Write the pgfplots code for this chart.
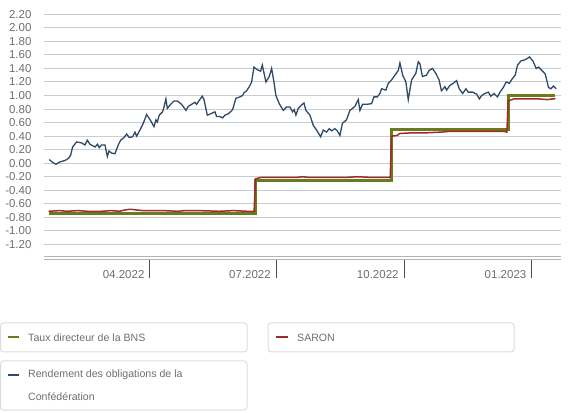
\documentclass[border=0pt]{standalone}
\usepackage{fontspec}
\setmainfont{Liberation Sans}
\usepackage{pgfplots}
\pgfplotsset{compat=1.18}
\definecolor{snbgreen}{HTML}{6B7B1B}
\definecolor{saronred}{HTML}{9E2A2B}
\definecolor{bondblue}{HTML}{2E4A66}
\definecolor{gridgray}{HTML}{C8CDD3}
\definecolor{labelgray}{HTML}{6E6E6E}
\definecolor{boxgray}{HTML}{D9DDE2}
\definecolor{tickgray}{HTML}{4A4F55}

\begin{document}
\begin{tikzpicture}[x=1pt,y=1pt]
\path[use as bounding box] (0,0) rectangle (575,412);
\begin{axis}[
  at={(44pt,154pt)}, anchor=south west,
  scale only axis, width=517pt, height=243.7pt,
  xmin=13.7, xmax=386, ymin=-1.4, ymax=2.2,
  ytick={-1.2,-1.0,-0.8,-0.6,-0.4,-0.2,0,0.2,0.4,0.6,0.8,1.0,1.2,1.4,1.6,1.8,2.0,2.2},
  /pgf/number format/assume math mode=true,
  yticklabel={\pgfmathprintnumber[fixed,fixed zerofill,precision=2]{\tick}},
  ymajorgrids, grid style={gridgray, line width=1pt},
  axis x line*=bottom, axis y line*=left,
  y axis line style={draw=none},
  x axis line style={gridgray!70!gray, line width=1pt, double=white, double distance=1.2pt},
  ytick style={draw=none},
  yticklabel style={xshift=11pt},
  xtick={90,181,273,365},
  xticklabels={04.2022,07.2022,10.2022,01.2023},
  xtick style={tickgray, line width=1pt},
  major tick length=20pt, tick align=outside,
  xticklabel style={anchor=north east, xshift=-2pt, yshift=11pt},
  tick label style={font=\fontsize{11.5}{13}\selectfont, text=labelgray},
  clip=false,
]
% Taux directeur de la BNS
\addplot[snbgreen, line width=3pt] coordinates {
(17,-0.75)(166,-0.75)(166,-0.25)(264,-0.25)(264,0.50)(348,0.50)(348,1.00)(382,1.00)};
% SARON
\addplot[saronred, line width=1.5pt] coordinates {
(17,-0.71)(25,-0.70)(30,-0.71)(38,-0.70)(45,-0.71)(55,-0.71)(62,-0.70)(68,-0.71)
(72,-0.69)(76,-0.68)(80,-0.69)(85,-0.70)(100,-0.70)(110,-0.71)(115,-0.70)(125,-0.70)
(140,-0.71)(150,-0.70)(160,-0.71)(165,-0.71)(166,-0.23)(170,-0.21)(175,-0.21)(185,-0.21)
(195,-0.21)(200,-0.20)(205,-0.21)(230,-0.21)(240,-0.20)(250,-0.21)(263,-0.21)(264,0.40)
(268,0.41)(270,0.44)(280,0.45)(290,0.45)(300,0.46)(305,0.47)(315,0.47)(325,0.47)
(335,0.47)(345,0.47)(347,0.46)(348,0.92)(352,0.95)(360,0.95)(370,0.95)(376,0.94)
(380,0.95)(382,0.95)};
% Rendement des obligations de la Confederation
\addplot[bondblue, line width=1.3pt] coordinates {
(17.5,0.054)(20.4,0.005)(22.3,-0.015)(25.2,0.02)(28.8,0.04)(31.2,0.07)(32.9,0.12)
(34.3,0.24)(37.2,0.315)(40.8,0.30)(43.2,0.27)(44.9,0.34)(46.8,0.28)(50.4,0.24)
(52.3,0.28)(53.5,0.23)(55.2,0.27)(57.6,0.27)(59.3,0.10)(60.5,0.18)(62.4,0.15)
(64.8,0.14)(67.2,0.27)(68.9,0.34)(71.3,0.38)(73.2,0.43)(75.1,0.38)(77.5,0.39)
(79.2,0.46)(80.4,0.40)(82.8,0.49)(85.2,0.59)(87.6,0.72)(90.5,0.63)(92.9,0.54)
(94.3,0.64)(95.3,0.61)(96.7,0.71)(99.1,0.76)(100.1,0.83)(101.5,0.95)(102.5,0.81)
(104.9,0.87)(107.3,0.92)(109.7,0.92)(112.8,0.87)(115.9,0.78)(117.6,0.84)(120.0,0.87)
(122.4,0.90)(123.6,0.87)(125.5,0.93)(127.7,0.99)(128.9,0.94)(131.3,0.71)(133.7,0.73)
(136.8,0.76)(138.0,0.69)(140.4,0.69)(142.3,0.67)(144.0,0.71)(146.4,0.73)(149.5,0.79)
(151.9,0.96)(154.8,0.98)(156.7,1.00)(157.7,1.04)(159.6,1.07)(161.5,1.13)(163.2,1.20)
(164.9,1.42)(167.3,1.38)(169.7,1.36)(170.9,1.45)(173.5,1.20)(175.9,1.28)(177.6,1.40)
(179.3,1.20)(180.7,1.00)(183.1,0.88)(186.0,0.78)(188.4,0.83)(190.8,0.83)(192.7,0.76)
(193.9,0.79)(195.1,0.71)(196.8,0.81)(199.1,0.86)(200.9,0.89)(202.3,0.78)(205.2,0.71)
(207.6,0.56)(210.0,0.49)(212.9,0.39)(214.8,0.49)(217.2,0.46)(219.1,0.51)(220.8,0.48)
(223.2,0.51)(224.9,0.48)(226.8,0.41)(228.6,0.59)(231.5,0.64)(234.0,0.78)(237.6,0.84)
(240.0,0.94)(241.2,0.78)(243.1,0.87)(246.0,0.87)(249.6,0.88)(251.3,0.98)(253.7,0.98)
(255.6,1.03)(256.8,1.10)(259.9,1.08)(261.6,1.18)(264.0,1.23)(266.4,1.30)(268.8,1.37)
(270.0,1.48)(272.0,1.30)(274.3,1.20)(276.0,0.94)(278.4,1.23)(281.5,1.33)(283.2,1.50)
(284.4,1.47)(286.2,1.28)(289.1,1.30)(291.0,1.37)(293.4,1.40)(295.8,1.33)(298.2,1.23)
(299.9,1.07)(302.4,1.13)(303.6,1.08)(306.0,1.15)(308.4,1.18)(310.8,1.22)(312.7,1.10)
(315.2,1.03)(317.5,1.10)(319.2,1.05)(322.4,1.05)(325.3,1.02)(327.2,0.95)(328.9,1.00)
(331.2,1.03)(333.7,1.05)(335.4,0.99)(337.8,1.03)(340.2,0.98)(342.1,1.05)(344.5,1.12)
(346.5,1.20)(348.8,1.18)(350.6,1.24)(353.0,1.30)(354.7,1.45)(357.1,1.51)(360.2,1.53)
(361.9,1.55)(363.3,1.57)(365.8,1.51)(368.1,1.40)(369.8,1.42)(372.2,1.37)(374.6,1.32)
(377.0,1.12)(378.7,1.10)(380.6,1.14)(382.5,1.10)};
\end{axis}
% legend boxes
\begin{scope}[font=\fontsize{10.6}{13}\selectfont]
\draw[boxgray, line width=1pt, rounded corners=3pt] (0.5,60) rectangle (247,89);
\draw[snbgreen, line width=2pt] (8,74.5) -- (19,74.5);
\node[anchor=west, text=labelgray, inner sep=0pt] at (28,74.5) {Taux directeur de la BNS};
\draw[boxgray, line width=1pt, rounded corners=3pt] (268,60) rectangle (514,89);
\draw[saronred, line width=2pt] (276,74.5) -- (288,74.5);
\node[anchor=west, text=labelgray, inner sep=0pt] at (297,74.5) {SARON};
\draw[boxgray, line width=1pt, rounded corners=3pt] (0.5,2) rectangle (247,51);
\draw[bondblue, line width=2pt] (8,37) -- (19,37);
\node[anchor=west, text=labelgray, inner sep=0pt] at (28,37) {Rendement des obligations de la};
\node[anchor=west, text=labelgray, inner sep=0pt] at (28,15) {Confédération};
\end{scope}
\end{tikzpicture}
\end{document}
